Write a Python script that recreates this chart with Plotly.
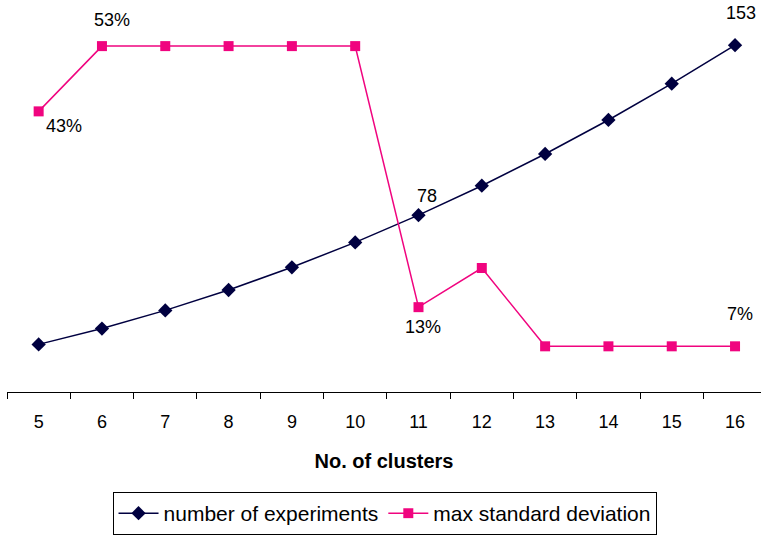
import plotly.graph_objects as go

clusters = ["5", "6", "7", "8", "9", "10", "11", "12", "13", "14", "15", "16"]
num_experiments = [21, 28, 36, 45, 55, 66, 78, 91, 105, 120, 136, 153]
max_std_dev = [0.43, 0.53, 0.53, 0.53, 0.53, 0.53, 0.13, 0.19, 0.07, 0.07, 0.07, 0.07]

NAVY = "#000040"
PINK = "#F0047F"
FONT = "Liberation Sans, Arial, sans-serif"

fig = go.Figure()
fig.add_trace(go.Scatter(
    x=clusters, y=num_experiments, name="number of experiments",
    mode="lines+markers", line=dict(color=NAVY, width=1.5),
    marker=dict(symbol="diamond", size=11, color=NAVY),
    yaxis="y", cliponaxis=False,
))
fig.add_trace(go.Scatter(
    x=clusters, y=max_std_dev, name="max standard deviation",
    mode="lines+markers", line=dict(color=PINK, width=1.5),
    marker=dict(symbol="square", size=10, color=PINK),
    yaxis="y2", cliponaxis=False,
))

# data labels (Excel-style), x given as category index
labels = [
    (11, num_experiments[11], "y", str(num_experiments[11]), 6, 32),
    (6, num_experiments[6], "y", str(num_experiments[6]), 8, 19),
    (1, max_std_dev[1], "y2", f"{max_std_dev[1]:.0%}", 10, 26),
    (0, max_std_dev[0], "y2", f"{max_std_dev[0]:.0%}", 25, -15),
    (6, max_std_dev[6], "y2", f"{max_std_dev[6]:.0%}", 4, -20),
    (11, max_std_dev[11], "y2", f"{max_std_dev[11]:.0%}", 5, 32),
]
for xi, yv, yref, txt, xs, ys in labels:
    fig.add_annotation(x=xi, y=yv, xref="x", yref=yref, text=txt,
                       showarrow=False, xshift=xs, yshift=ys,
                       font=dict(family=FONT, size=18, color="#000000"))

fig.update_layout(
    width=761, height=536,
    margin=dict(l=7, r=0, t=20, b=144, autoexpand=False),
    paper_bgcolor="white", plot_bgcolor="white",
    font=dict(family=FONT, size=18, color="#000000"),
    showlegend=True,
    legend=dict(
        orientation="h", x=0.5007, xanchor="center", y=-0.3844, yanchor="bottom",
        bordercolor="#000000", borderwidth=1, bgcolor="white",
        font=dict(family=FONT, size=21), itemwidth=40,
    ),
    xaxis=dict(
        type="category", range=[-0.5, 11.41],
        showline=True, linecolor="#000000", linewidth=1,
        ticks="outside", tickson="boundaries", ticklen=6, tickcolor="#000000",
        ticklabelstandoff=13,
        showgrid=False, zeroline=False,
        tickfont=dict(family=FONT, size=18),
        title=dict(text="<b>No. of clusters</b>", font=dict(family=FONT, size=20), standoff=23),
    ),
    yaxis=dict(range=[0, 164.1], visible=False, showgrid=False, zeroline=False),
    yaxis2=dict(range=[0, 0.57], overlaying="y", side="right", visible=False,
                showgrid=False, zeroline=False),
)

fig.write_html("out.html")
